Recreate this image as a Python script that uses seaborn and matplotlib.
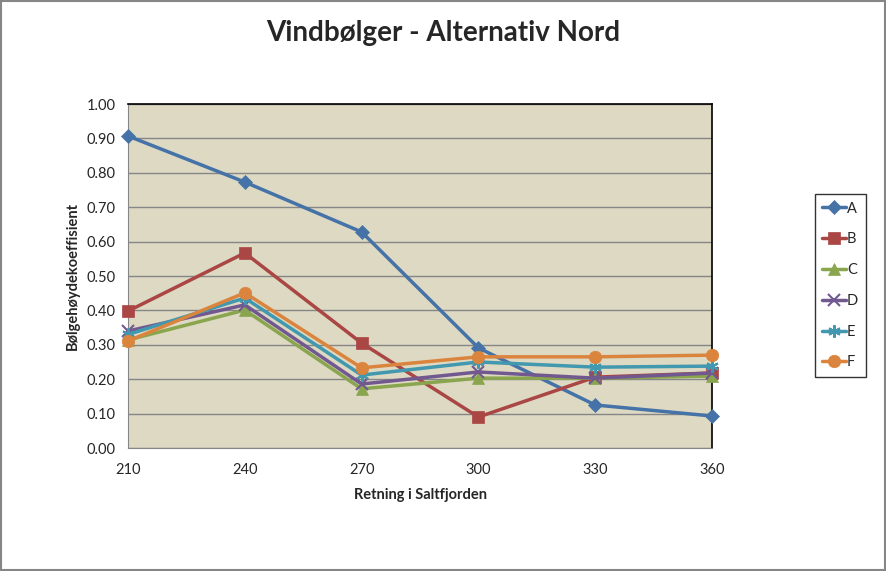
import numpy as np
import matplotlib
matplotlib.use("Agg")
import matplotlib.pyplot as plt
import seaborn as sns
import pandas as pd

# data
retning = [210, 240, 270, 300, 330, 360]
serie_a = [0.907, 0.773, 0.628, 0.291, 0.125, 0.093]
serie_b = [0.398, 0.567, 0.305, 0.090, 0.206, 0.218]
serie_c = [0.314, 0.401, 0.172, 0.203, 0.203, 0.209]
serie_d = [0.340, 0.416, 0.186, 0.221, 0.203, 0.218]
serie_e = [0.330, 0.436, 0.212, 0.250, 0.235, 0.238]
serie_f = [0.311, 0.451, 0.233, 0.265, 0.265, 0.270]
navn = ["A", "B", "C", "D", "E", "F"]
farger = ["#4572A7", "#AA4643", "#89A54E", "#71588F", "#4198AF", "#DB843D"]
markorer = ["D", "s", "^", "x", (6, 2, 0), "o"]
storrelse = [7, 9, 8, 8, 9, 9]

rows = []
for n, vals in zip(navn, [serie_a, serie_b, serie_c, serie_d, serie_e, serie_f]):
    for x, v in zip(retning, vals):
        rows.append({"retning": x, "verdi": v, "serie": n})
df = pd.DataFrame(rows)

sns.set_style("white")
plt.rcParams['font.family'] = ['Lato', 'DejaVu Sans']

fig = plt.figure(figsize=(8.87, 5.71), dpi=100)
ax = fig.add_axes([128 / 887, 123 / 571, 584 / 887, 344 / 571])
ax.set_facecolor("#DDD9C3")
ax.set_axisbelow(True)

for i, n in enumerate(navn):
    sub = df[df.serie == n]
    sns.lineplot(data=sub, x="retning", y="verdi", ax=ax, color=farger[i],
                 marker=markorer[i], markersize=storrelse[i], linewidth=2.5,
                 markeredgecolor=farger[i], markeredgewidth=1.5 if n in "DE" else 0.5,
                 label=n, clip_on=False, zorder=3 + i)

ax.set_xlim(210, 360)
ax.set_ylim(0, 1)
ax.set_xticks(retning)
ax.set_yticks(np.arange(0, 1.01, 0.1))
ax.set_yticklabels([f"{v:.2f}" for v in np.arange(0, 1.01, 0.1)])
ax.yaxis.grid(True, color="#868686", linewidth=1)
ax.tick_params(axis="both", which="major", direction="out", length=5,
               color="#868686", labelsize=10.5, pad=4)
ax.tick_params(axis="x", pad=6)
for s in ["left", "bottom"]:
    ax.spines[s].set_color("#868686")
for s in ["top", "right"]:
    ax.spines[s].set_color("black")
    ax.spines[s].set_linewidth(1.2)

ax.set_xlabel("Retning i Saltfjorden", fontsize=10.5, fontweight="bold", labelpad=8)
ax.set_ylabel("Bølgehøydekoeffisient", fontsize=10.5, fontweight="bold", labelpad=5)
fig.suptitle("Vindbølger - Alternativ Nord", fontsize=20, fontweight="bold", y=0.965)

leg = ax.legend(loc="center left", bbox_to_anchor=(815 / 887, 0.5),
                bbox_transform=fig.transFigure, frameon=True, fancybox=False,
                edgecolor="black", fontsize=10.5, handlelength=1.6,
                labelspacing=1.15, borderpad=0.5, handletextpad=0.1,
                borderaxespad=0)
leg.get_frame().set_linewidth(1)

fig.patches.append(plt.Rectangle((0.001, 0.001), 0.997, 0.997, transform=fig.transFigure,
                                 fill=False, edgecolor="#868686", linewidth=1.5))

plt.savefig("out.png", dpi=100, facecolor="white")
plt.close()
